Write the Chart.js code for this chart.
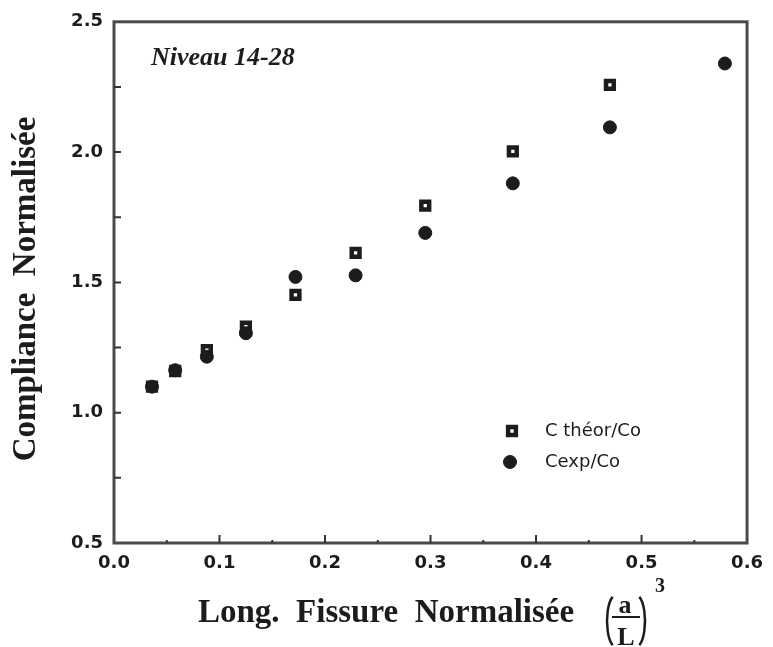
<!DOCTYPE html>
<html>
<head>
<meta charset="utf-8">
<script src="https://cdn.jsdelivr.net/npm/chart.js@4"></script>
<style>
  html, body { margin: 0; padding: 0; background: #fff; }
  canvas { display: block; }
</style>
</head>
<body>
<canvas id="myChart" width="773" height="647"></canvas>
<script>
// data
const xTheor = [0.036, 0.058, 0.088, 0.125, 0.172, 0.229, 0.295, 0.378, 0.470];
const cTheor = [1.10, 1.16, 1.24, 1.33, 1.452, 1.613, 1.795, 2.003, 2.258];
const xExp = [0.036, 0.058, 0.088, 0.125, 0.172, 0.229, 0.295, 0.378, 0.470, 0.579];
const cExp = [1.10, 1.163, 1.215, 1.305, 1.521, 1.527, 1.69, 1.88, 2.095, 2.34];
const seriesNames = ["C théor/Co", "Cexp/Co"];
const majorX = [0.1, 0.2, 0.3, 0.4, 0.5];
const minorX = [0.05, 0.15, 0.25, 0.35, 0.45, 0.55];
const majorY = [1.0, 1.5, 2.0];
const minorY = [0.75, 1.25, 1.75, 2.25];

const ink = "#1c1c1c";

const framePlugin = {
  id: "frame",
  afterDatasetsDraw(chart) {
    const { ctx, chartArea: a, scales } = chart;
    ctx.save();
    ctx.strokeStyle = "#4a4a4a";
    ctx.lineWidth = 3;
    ctx.strokeRect(a.left, a.top, a.right - a.left, a.bottom - a.top);

    // inward tick marks
    ctx.strokeStyle = "#333";
    ctx.lineWidth = 2;
    ctx.beginPath();
    majorX.forEach(v => {
      const px = scales.x.getPixelForValue(v);
      ctx.moveTo(px, a.bottom); ctx.lineTo(px, a.bottom - 8);
    });
    minorX.forEach(v => {
      const px = scales.x.getPixelForValue(v);
      ctx.moveTo(px, a.bottom); ctx.lineTo(px, a.bottom - 3);
    });
    majorY.concat(minorY).forEach(v => {
      const py = scales.y.getPixelForValue(v);
      ctx.moveTo(a.left, py); ctx.lineTo(a.left + 7, py);
    });
    ctx.stroke();
    ctx.restore();
  },
  afterDraw(chart) {
    const ctx = chart.ctx;
    ctx.save();
    ctx.fillStyle = ink;

    // annotation
    ctx.font = "italic bold 26px 'Liberation Serif'";
    ctx.textAlign = "left";
    ctx.textBaseline = "alphabetic";
    ctx.fillText("Niveau 14-28", 151, 65);

    // y title
    ctx.save();
    ctx.translate(35, 289);
    ctx.rotate(-Math.PI / 2);
    ctx.font = "bold 33px 'Liberation Serif'";
    ctx.textAlign = "center";
    ctx.fillText("Compliance  Normalisée", 0, 0);
    ctx.restore();

    // x title
    ctx.font = "bold 33px 'Liberation Serif'";
    ctx.textAlign = "left";
    ctx.fillText("Long.  Fissure  Normalisée", 198, 622);

    // (a/L)^3
    ctx.font = "bold 26px 'Liberation Serif'";
    ctx.textAlign = "center";
    ctx.fillText("a", 625, 613);
    ctx.fillText("L", 626, 645);
    ctx.fillRect(612, 616, 28, 2);
    ctx.font = "bold 20px 'Liberation Serif'";
    ctx.fillText("3", 660, 592);
    ctx.lineWidth = 2.5;
    ctx.strokeStyle = ink;
    ctx.beginPath();
    ctx.ellipse(616, 621, 9, 26, 0, Math.PI * 0.62, Math.PI * 1.38);
    ctx.stroke();
    ctx.beginPath();
    ctx.ellipse(636, 621, 9, 26, 0, -Math.PI * 0.38, Math.PI * 0.38);
    ctx.stroke();

    // legend
    const items = [[512, 431], [510, 462]];
    ctx.font = "18px 'DejaVu Sans'";
    ctx.textAlign = "left";
    ctx.textBaseline = "middle";
    chart.data.datasets.forEach((ds, i) => {
      const [lx, ly] = items[i];
      ctx.fillStyle = ds.backgroundColor;
      ctx.strokeStyle = ds.borderColor;
      ctx.lineWidth = ds.borderWidth;
      Chart.helpers.drawPoint(ctx, {
        pointStyle: ds.pointStyle,
        radius: ds.pointRadius,
        borderWidth: ds.borderWidth,
        rotation: 0
      }, lx, ly);
      ctx.fillStyle = ink;
      ctx.fillText(ds.label, 545, ly);
    });
    ctx.restore();
  }
};

const theorData = xTheor.map((x, i) => ({ x: x, y: cTheor[i] }));
const expData = xExp.map((x, i) => ({ x: x, y: cExp[i] }));

const ctx = document.getElementById("myChart").getContext("2d");

const myChart = new Chart(ctx, {
  type: "scatter",
  data: {
    datasets: [
      {
        label: seriesNames[0],
        data: theorData,
        pointStyle: "rect",
        pointRadius: 5.5,
        backgroundColor: "#ffffff",
        borderColor: ink,
        borderWidth: 4.5,
        order: 2,
      },
      {
        label: seriesNames[1],
        data: expData,
        pointStyle: "circle",
        pointRadius: 6.5,
        backgroundColor: ink,
        borderColor: ink,
        borderWidth: 1,
        order: 1,
      },
    ],
  },
  plugins: [framePlugin],
  options: {
    responsive: false,
    animation: false,
    layout: {
      padding: { left: 0, top: 20, right: 20, bottom: 0 },
    },
    scales: {
      x: {
        type: "linear",
        min: 0,
        max: 0.6,
        grid: { display: false, drawTicks: false },
        border: { display: false },
        ticks: {
          stepSize: 0.1,
          padding: 10,
          color: ink,
          font: { family: "'DejaVu Sans'", size: 18, weight: "bold" },
          callback: (v) => v.toFixed(1),
        },
        afterFit: (s) => { s.height = 104; },
      },
      y: {
        type: "linear",
        min: 0.5,
        max: 2.5,
        grid: { display: false, drawTicks: false },
        border: { display: false },
        ticks: {
          stepSize: 0.5,
          padding: 11,
          color: ink,
          font: { family: "'DejaVu Sans'", size: 18, weight: "bold" },
          callback: (v) => v.toFixed(1),
        },
        afterFit: (s) => { s.width = 114; },
      },
    },
    plugins: {
      legend: { display: false },
      tooltip: { enabled: false },
    },
  },
});
</script>
</body>
</html>
